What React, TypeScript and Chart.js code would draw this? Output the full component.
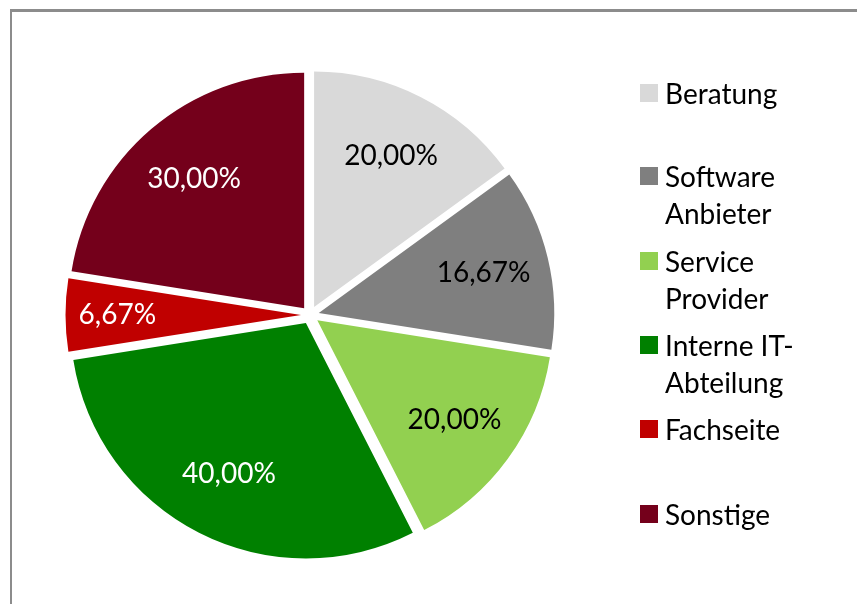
import React, { useEffect, useRef } from "react";
import { Chart, registerables } from "chart.js";

Chart.register(...registerables);

// ---- data ----
const categories = [
  "Beratung",
  "Software Anbieter",
  "Service Provider",
  "Interne IT-Abteilung",
  "Fachseite",
  "Sonstige",
];
const legendLines = [
  ["Beratung"],
  ["Software", "Anbieter"],
  ["Service", "Provider"],
  ["Interne IT-", "Abteilung"],
  ["Fachseite"],
  ["Sonstige"],
];
const values = [20.0, 16.67, 20.0, 40.0, 6.67, 30.0];
const colors = ["#d9d9d9", "#7f7f7f", "#92d050", "#008000", "#c00000", "#74001b"];
const labelColors = ["#000000", "#000000", "#000000", "#ffffff", "#ffffff", "#ffffff"];

// ---- layout / style ----
const FONT = "Lato, 'Open Sans', sans-serif";
const FONT_SIZE = 28;
const EXPLODE = 9;
const legendFirstLineCenters = [93, 176, 261, 345, 429, 514];

const fmt = (v: number) => v.toFixed(2).replace(".", ",") + "%";

// Draw slices pulled out from the centre (exploded pie) without changing their radius
const explodePlugin = {
  id: "explodeSlices",
  beforeDatasetDraw(chart: any, args: any) {
    const ctx = chart.ctx;
    args.meta.data.forEach((arc: any) => {
      const mid = (arc.startAngle + arc.endAngle) / 2;
      ctx.save();
      ctx.translate(Math.cos(mid) * EXPLODE, Math.sin(mid) * EXPLODE);
      arc.draw(ctx, chart.chartArea);
      ctx.restore();
    });
    return false;
  },
};

const labelPlugin = {
  id: "sliceLabels",
  afterDatasetsDraw(chart: any) {
    const ctx = chart.ctx;
    const meta = chart.getDatasetMeta(0);
    meta.data.forEach((arc: any, i: number) => {
      const { x, y, startAngle, endAngle, outerRadius } = arc.getProps(
        ["x", "y", "startAngle", "endAngle", "outerRadius"],
        true
      );
      const mid = (startAngle + endAngle) / 2;
      const span = endAngle - startAngle;
      const f = span < 0.6 ? 0.78 : 0.72;
      const d = EXPLODE + f * outerRadius;
      ctx.save();
      ctx.font = `${FONT_SIZE}px ${FONT}`;
      ctx.fillStyle = labelColors[i];
      ctx.textAlign = "center";
      ctx.textBaseline = "middle";
      ctx.fillText(fmt(values[i]), x + Math.cos(mid) * d, y + Math.sin(mid) * d);
      ctx.restore();
    });
  },
};

export default function App() {
  const ref = useRef<HTMLCanvasElement | null>(null);

  useEffect(() => {
    let chart: Chart | null = null;
    let cancelled = false;
    const make = () => {
      if (cancelled || !ref.current) return;
      chart = new Chart(ref.current, {
        type: "pie",
        data: {
          labels: categories,
          datasets: [
            {
              data: values,
              backgroundColor: colors,
              borderWidth: 0,
              hoverOffset: 0,
            },
          ],
        },
        options: {
          animation: false,
          responsive: false,
          maintainAspectRatio: false,
          events: [],
          layout: { padding: { left: 74.5, right: 311.5, top: 79.5, bottom: 53.5 } },
          plugins: {
            legend: { display: false },
            tooltip: { enabled: false },
          },
        },
        plugins: [explodePlugin, labelPlugin],
      });
    };
    const fonts: any = (document as any).fonts;
    if (fonts && fonts.load) {
      fonts.load(`${FONT_SIZE}px Lato`).then(make, make);
    } else make();
    return () => {
      cancelled = true;
      if (chart) chart.destroy();
    };
  }, []);

  return (
    <div
      style={{
        position: "fixed",
        left: 0,
        top: 0,
        width: 857,
        height: 604,
        overflow: "hidden",
        background: "#ffffff",
      }}
    >
      <div
        style={{
          position: "absolute",
          left: 10,
          top: 9,
          width: 900,
          height: 700,
          borderTop: "3px solid #8c8c8c",
          borderLeft: "2px solid #8c8c8c",
        }}
      />
      <canvas
        ref={ref}
        width={857}
        height={604}
        style={{ position: "absolute", left: 0, top: 0, width: 857, height: 604 }}
      />
      {legendLines.map((lines, i) => {
        const c = legendFirstLineCenters[i];
        return (
          <div key={categories[i]}>
            <div
              style={{
                position: "absolute",
                left: 640,
                top: c - 9,
                width: 18,
                height: 18,
                background: colors[i],
              }}
            />
            <div
              style={{
                position: "absolute",
                left: 665,
                top: c - 18.5,
                fontFamily: FONT,
                fontSize: FONT_SIZE,
                lineHeight: "37px",
                color: "#000",
                whiteSpace: "nowrap",
              }}
            >
              {lines.map((l) => (
                <div key={l}>{l}</div>
              ))}
            </div>
          </div>
        );
      })}
    </div>
  );
}
